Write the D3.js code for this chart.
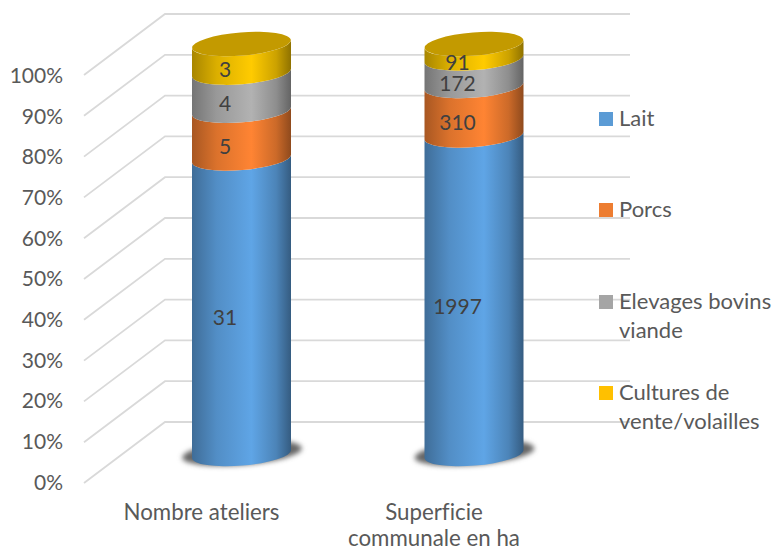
<!DOCTYPE html>
<html><head><meta charset="utf-8">
<script src="https://cdn.jsdelivr.net/npm/d3@7"></script>
<style>html,body{margin:0;padding:0;background:#fff}svg{display:block}
text{font-family:Lato,"Open Sans",sans-serif;fill:#595959;font-variant-ligatures:none}</style></head>
<body><div id="c"></div>
<script>
const categories = [["Nombre ateliers"], ["Superficie", "communale en ha"]];
const seriesNames = [["Lait"], ["Porcs"], ["Elevages bovins", "viande"], ["Cultures de", "vente/volailles"]];
const lait = [31, 1997];
const porcs = [5, 310];
const bovins = [4, 172];
const cultures = [3, 91];
const tickValues = [0, .1, .2, .3, .4, .5, .6, .7, .8, .9, 1];
const colors = ["#5fa5e6", "#ff8433", "#b2b2b2", "#ffcb00"];
const legendColors = ["#5b9bd5", "#ed7d31", "#a5a5a5", "#ffc000"];
const legendY = [119, 210, 302, 393];

const W = 773, H = 550, fs = 22, fsNum = 21;
const series = [lait, porcs, bovins, cultures];
const svg = d3.select("#c").append("svg").attr("width", W).attr("height", H);
const defs = svg.append("defs");

const yFront = d3.scaleLinear().domain([0, 1]).range([483, 75]);
const yBack = d3.scaleLinear().domain([0, 1]).range([422, 14]);
const yBar = d3.scaleLinear().domain([0, 1]).range([458, 48]);
const x = d3.scaleBand().domain([0, 1]).range([125.25, 590.25]);
const cx = i => x(i) + x.bandwidth() / 2;
const rx = 49.5, ry = 11.6, tilt = 8;

colors.forEach((c, i) => {
  const g = defs.append("linearGradient").attr("id", "g" + i);
  [[0, .66], [.25, .86], [.6, 1], [.85, .8], [1, .56]].forEach(([o, k]) => {
    const r = d3.rgb(c);
    g.append("stop").attr("offset", o).attr("stop-color", d3.rgb(r.r * k, r.g * k, r.b * k).formatHex());
  });
});
defs.append("filter").attr("id", "blur").attr("x", "-20%").attr("y", "-50%").attr("width", "140%").attr("height", "200%")
  .append("feGaussianBlur").attr("stdDeviation", 2.6);

const grid = svg.append("g").attr("fill", "none").attr("stroke", "#d9d9d9").attr("stroke-width", 1.8);
grid.selectAll("path").data(tickValues).join("path")
  .attr("d", t => d3.line()([[84, yFront(t)], [165, yBack(t)], [630, yBack(t)]]));

const axis = d3.axisLeft(yFront.copy().range([482, 75])).tickValues(tickValues).tickSize(0).tickPadding(0).tickFormat(d3.format(".0%"));
const ag = svg.append("g").attr("transform", "translate(63,0)").call(axis);
ag.select(".domain").remove();
ag.selectAll("text").attr("font-size", fsNum).style("font-family", "Lato").attr("dy", "0.35em");

const rot = Math.atan2(tilt, 2 * rx) * 180 / Math.PI;
const labels = svg.append("g");
categories.forEach((cat, i) => {
  const c = cx(i), total = d3.sum(series, s => s[i]);
  const L = c - rx, R = c + rx;
  svg.append("ellipse").attr("cx", c + 0.5).attr("cy", yBar(0) - 5).attr("rx", 60).attr("ry", 12)
    .attr("transform", `rotate(${-rot} ${c} ${yBar(0) - 5})`)
    .attr("fill", "#666").attr("filter", "url(#blur)");
  let acc = 0;
  series.forEach((s, k) => {
    const v0 = acc / total, v1 = (acc + s[i]) / total;
    acc += s[i];
    const y0 = yBar(v0), y1 = yBar(v1);
    const d = `M${L},${y1} A${rx},${ry} ${-rot} 0 0 ${R},${y1 - tilt} L${R},${y0 - tilt} A${rx},${ry} ${-rot} 0 1 ${L},${y0} Z`;
    svg.append("path").attr("d", d).attr("fill", `url(#g${k})`);
    labels.append("text").attr("x", c - 16.5).attr("y", yBar((v0 + v1) / 2) + 15)
      .attr("text-anchor", "middle").attr("font-size", fsNum).style("fill", "#404040").text(s[i]);
  });
  const yt = yBar(1);
  svg.append("ellipse").attr("cx", c).attr("cy", yt - tilt / 2).attr("rx", rx).attr("ry", ry)
    .attr("transform", `rotate(${-rot} ${c} ${yt - tilt / 2})`).attr("fill", "#c39a00");
  cat.forEach((line, j) => {
    labels.append("text").attr("x", c - 40).attr("y", 520 + j * 25.5).attr("text-anchor", "middle").attr("font-size", fs + 0.3).text(line);
  });
});
labels.raise();

seriesNames.forEach((lines, k) => {
  svg.append("rect").attr("x", 599).attr("y", legendY[k] - 7).attr("width", 14).attr("height", 14).attr("fill", legendColors[k]);
  lines.forEach((line, j) => {
    svg.append("text").attr("x", 619).attr("y", legendY[k] + 7 + j * 29).attr("font-size", fs).text(line);
  });
});
</script></body></html>
